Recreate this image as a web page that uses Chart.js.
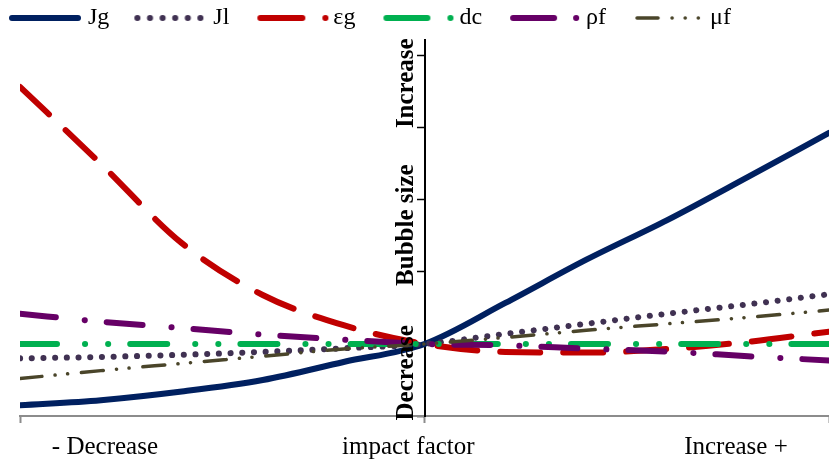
<!DOCTYPE html>
<html>
<head>
<meta charset="utf-8">
<title>Bubble size - impact factor</title>
<script src="https://cdn.jsdelivr.net/npm/chart.js@4/dist/chart.umd.min.js"></script>
<style>
	html, body { margin: 0; padding: 0; background: #fff; }
	canvas { display: block; }
</style>
</head>
<body>
<canvas id="bubbleChart" width="829" height="463"></canvas>
<script>
	"use strict";

	// impact factor, -1 = decrease, +1 = increase
	var xValues = [-1, -0.8, -0.6, -0.4, -0.2, 0, 0.2, 0.4, 0.6, 0.8, 1];

	var seriesNames = ["Jg", "Jl", "εg", "dc", "ρf", "μf"];
	var jg = [0.15, 0.22, 0.34, 0.50, 0.75, 1.0, 1.57, 2.17, 2.72, 3.32, 3.93];
	var jl = [0.80, 0.82, 0.85, 0.89, 0.94, 1.0, 1.14, 1.28, 1.42, 1.55, 1.69];
	var eg = [4.57, 3.50, 2.40, 1.68, 1.26, 1.0, 0.89, 0.88, 0.93, 1.03, 1.17];
	var dc = [1.0, 1.0, 1.0, 1.0, 1.0, 1.0, 1.0, 1.0, 1.0, 1.0, 1.0];
	var rf = [1.42, 1.31, 1.22, 1.13, 1.06, 1.0, 0.98, 0.935, 0.895, 0.83, 0.77];
	var mf = [0.52, 0.63, 0.73, 0.83, 0.93, 1.0, 1.09, 1.19, 1.28, 1.37, 1.47];
	var seriesValues = [jg, jl, eg, dc, rf, mf];

	// axis texts
	var xTickValues = [-1, 0, 1];
	var xLabelValues = [-0.79, -0.04, 0.77];
	var xLabels = ["- Decrease", "impact factor", "Increase +"];
	var yLabelValues = [0.6, 2.65, 4.62];
	var yLabels = ["Decrease", "Bubble size", "Increase"];

	var serif = '"Liberation Serif", "Times New Roman", serif';

	// dash = pattern on the plot, key = [start, end, pattern] of the legend sample
	var lineStyles = [
		{ color: "#002060", width: 6, dash: [], key: [4, 70, []] },
		{ color: "#403152", width: 6, dash: [0.1, 11.6], key: [4, 70, [0.1, 12.5]] },
		{ color: "#C00000", width: 6, dash: [40, 23], key: [7, 73, [42, 23, 0.1, 100]] },
		{ color: "#00B050", width: 6, dash: [37, 28, 0.1, 23, 0.1, 22], key: [7, 72, [41, 23, 0.1, 100]] },
		{ color: "#660066", width: 6, dash: [36, 29, 0.1, 22], key: [7, 71, [41, 22, 0.1, 100]] },
		{ color: "#4A452A", width: 3.5, dash: [22, 13.2, 0.1, 12.5, 0.1, 13.8], key: [7, 69, [21, 14, 0.1, 13, 0.1, 13, 0.1, 100]] }
	];

	function buildDatasets() {
		return seriesNames.map(function (name, i) {
			var style = lineStyles[i];
			return {
				label: name,
				data: xValues.map(function (x, k) { return { x: x, y: seriesValues[i][k] }; }),
				borderColor: style.color,
				backgroundColor: style.color,
				borderWidth: style.width,
				borderDash: style.dash,
				borderCapStyle: "round",
				borderJoinStyle: "round",
				cubicInterpolationMode: "monotone",
				pointRadius: 0,
				pointHoverRadius: 0,
				fill: false,
				// later series sit on top, as in the original
				order: seriesNames.length - i
			};
		});
	}

	// small picture of each line style for the legend
	function keySample(style) {
		var c = document.createElement("canvas"), ctx;
		c.width = 76;
		c.height = 10;
		ctx = c.getContext("2d");
		ctx.strokeStyle = style.color;
		ctx.lineWidth = style.width;
		ctx.lineCap = "round";
		ctx.setLineDash(style.key[2]);
		ctx.beginPath();
		ctx.moveTo(style.key[0], 5);
		ctx.lineTo(style.key[1], 5);
		ctx.stroke();
		return c;
	}
	var keySamples = lineStyles.map(keySample);

	// legend starts further left than the plot area
	var shiftLegend = {
		id: "shiftLegend",
		afterLayout: function (chart) {
			chart.legend.left -= 36;
		}
	};

	// rotated words along the vertical axis
	var axisWords = {
		id: "axisWords",
		afterDraw: function (chart) {
			var ctx = chart.ctx, xs = chart.scales.x, ys = chart.scales.y;
			var bx = xs.getPixelForValue(0) - 12;
			ctx.save();
			ctx.font = "bold 25px " + serif;
			ctx.fillStyle = "#000";
			ctx.textAlign = "center";
			ctx.textBaseline = "alphabetic";
			yLabels.forEach(function (text, i) {
				ctx.save();
				ctx.translate(bx, ys.getPixelForValue(yLabelValues[i]));
				ctx.rotate(-Math.PI / 2);
				ctx.fillText(text, 0, 0);
				ctx.restore();
			});
			ctx.restore();
		}
	};

	var chart = new Chart(document.getElementById("bubbleChart"), {
		type: "line",
		data: { datasets: buildDatasets() },
		options: {
			responsive: false,
			animation: false,
			devicePixelRatio: 1,
			layout: {
				autoPadding: false,
				padding: { top: -26, left: 20, right: 0, bottom: -8 }
			},
			plugins: {
				tooltip: { enabled: false },
				legend: {
					position: "top",
					align: "start",
					labels: {
						usePointStyle: true,
						pointStyleWidth: 60,
						padding: 32,
						color: "#000",
						font: { family: serif, size: 24 },
						generateLabels: function (chart) {
							var items = Chart.defaults.plugins.legend.labels.generateLabels(chart);
							items.forEach(function (item) {
								item.pointStyle = keySamples[item.datasetIndex];
							});
							return items;
						},
						sort: function (a, b) { return a.datasetIndex - b.datasetIndex; }
					}
				}
			},
			scales: {
				x: {
					type: "linear",
					min: -1,
					max: 1,
					position: "bottom",
					weight: 0,
					afterBuildTicks: function (axis) {
						axis.ticks = xTickValues.map(function (v) { return { value: v }; });
					},
					ticks: { display: false },
					grid: {
						drawOnChartArea: false,
						drawTicks: true,
						tickLength: 7,
						tickColor: "#8c8c8c",
						tickWidth: 2
					},
					border: { color: "#8c8c8c", width: 2 }
				},
				x2: {
					type: "linear",
					min: -1,
					max: 1,
					position: "bottom",
					weight: 1,
					afterBuildTicks: function (axis) {
						axis.ticks = xLabelValues.map(function (v) { return { value: v }; });
					},
					ticks: {
						autoSkip: false,
						maxRotation: 0,
						padding: 9,
						color: "#000",
						font: { family: serif, size: 25 },
						callback: function (value, index) { return xLabels[index]; }
					},
					grid: { display: false, drawTicks: false, tickLength: 0 },
					border: { display: false }
				},
				y: {
					type: "linear",
					min: 0,
					max: 5.22,
					position: { x: 0 },
					ticks: { display: false, stepSize: 1, includeBounds: false },
					grid: {
						drawOnChartArea: false,
						drawTicks: true,
						tickLength: 7,
						tickColor: "#000",
						tickWidth: 1.5
					},
					border: { color: "#000", width: 2 }
				}
			}
		},
		plugins: [shiftLegend, axisWords]
	});
</script>
</body>
</html>
